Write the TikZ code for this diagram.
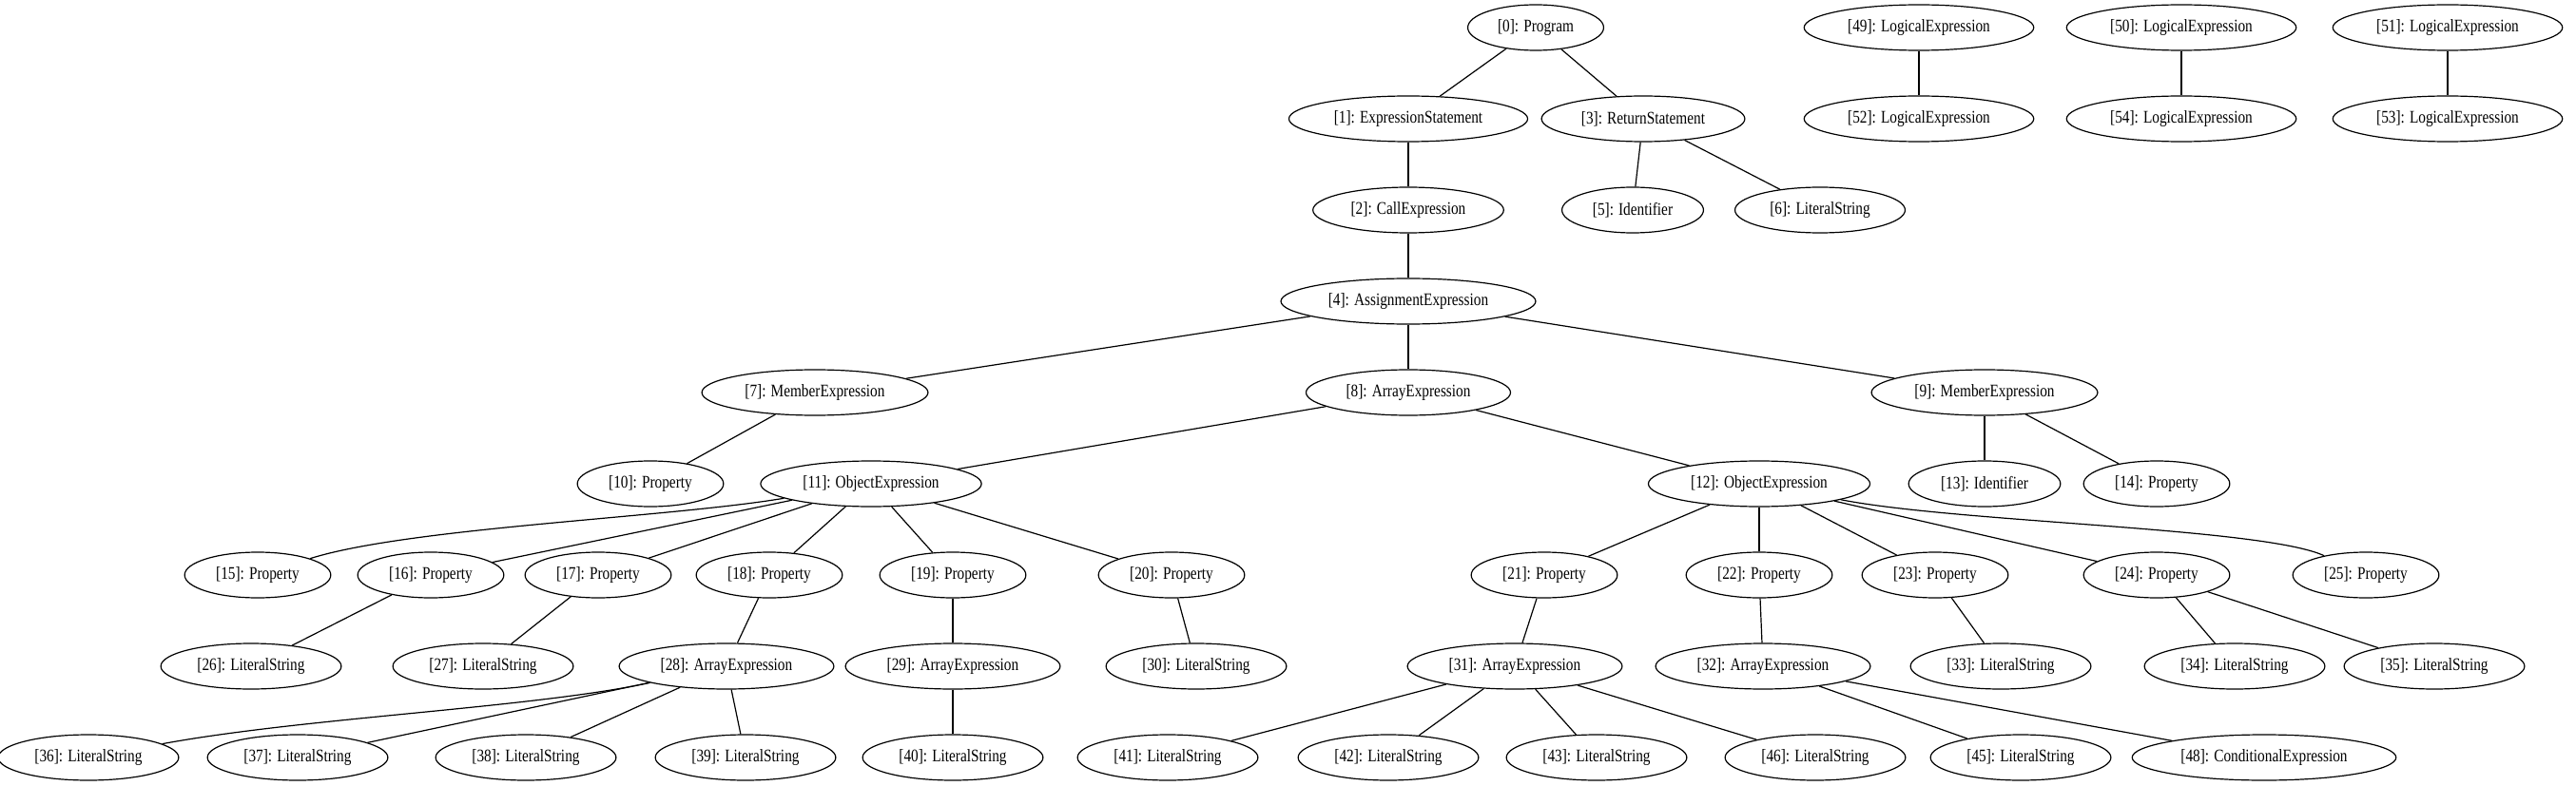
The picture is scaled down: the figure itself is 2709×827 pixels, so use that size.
\documentclass[tikz,border=0pt]{standalone}
\usepackage{fontspec}
\setmainfont{Liberation Serif}[FakeStretch=0.82]
\usetikzlibrary{shapes.geometric}
\begin{document}
\begin{tikzpicture}[x=0.75pt,y=-0.75pt,
  gv/.style={ellipse,draw,line width=0.9pt,font=\fontsize{14}{16}\selectfont,inner xsep=7.92pt,inner ysep=4pt,minimum height=36pt},
  edge/.style={line width=0.9pt}]
\useasboundingbox (0,0) rectangle (2709,827);
% row 0
\node[gv] (n0) at (1615,29) {[0]: Program};
\node[gv] (n49) at (2018,29) {[49]: LogicalExpression};
\node[gv] (n50) at (2294,29) {[50]: LogicalExpression};
\node[gv] (n51) at (2574,29) {[51]: LogicalExpression};
% row 1
\node[gv] (n1) at (1481,125) {[1]: ExpressionStatement};
\node[gv] (n3) at (1728,125) {[3]: ReturnStatement};
\node[gv] (n52) at (2018,125) {[52]: LogicalExpression};
\node[gv] (n54) at (2294,125) {[54]: LogicalExpression};
\node[gv] (n53) at (2574,125) {[53]: LogicalExpression};
% row 2
\node[gv] (n2) at (1481,221) {[2]: CallExpression};
\node[gv] (n5) at (1717,221) {[5]: Identifier};
\node[gv] (n6) at (1914,221) {[6]: LiteralString};
% row 3
\node[gv] (n4) at (1481,317) {[4]: AssignmentExpression};
% row 4
\node[gv] (n7) at (857,413) {[7]: MemberExpression};
\node[gv] (n8) at (1481,413) {[8]: ArrayExpression};
\node[gv] (n9) at (2087,413) {[9]: MemberExpression};
% row 5
\node[gv] (n10) at (684,509) {[10]: Property};
\node[gv] (n11) at (916,509) {[11]: ObjectExpression};
\node[gv] (n12) at (1850,509) {[12]: ObjectExpression};
\node[gv] (n13) at (2087,509) {[13]: Identifier};
\node[gv] (n14) at (2268,509) {[14]: Property};
% row 6
\node[gv] (n15) at (271,605) {[15]: Property};
\node[gv] (n16) at (453,605) {[16]: Property};
\node[gv] (n17) at (629,605) {[17]: Property};
\node[gv] (n18) at (809,605) {[18]: Property};
\node[gv] (n19) at (1002,605) {[19]: Property};
\node[gv] (n20) at (1232,605) {[20]: Property};
\node[gv] (n21) at (1624,605) {[21]: Property};
\node[gv] (n22) at (1850,605) {[22]: Property};
\node[gv] (n23) at (2035,605) {[23]: Property};
\node[gv] (n24) at (2268,605) {[24]: Property};
\node[gv] (n25) at (2488,605) {[25]: Property};
% row 7
\node[gv] (n26) at (264,701) {[26]: LiteralString};
\node[gv] (n27) at (508,701) {[27]: LiteralString};
\node[gv] (n28) at (764,701) {[28]: ArrayExpression};
\node[gv] (n29) at (1002,701) {[29]: ArrayExpression};
\node[gv] (n30) at (1258,701) {[30]: LiteralString};
\node[gv] (n31) at (1593,701) {[31]: ArrayExpression};
\node[gv] (n32) at (1854,701) {[32]: ArrayExpression};
\node[gv] (n33) at (2104,701) {[33]: LiteralString};
\node[gv] (n34) at (2350,701) {[34]: LiteralString};
\node[gv] (n35) at (2560,701) {[35]: LiteralString};
% row 8
\node[gv] (n36) at (93,797) {[36]: LiteralString};
\node[gv] (n37) at (313,797) {[37]: LiteralString};
\node[gv] (n38) at (553,797) {[38]: LiteralString};
\node[gv] (n39) at (784,797) {[39]: LiteralString};
\node[gv] (n40) at (1002,797) {[40]: LiteralString};
\node[gv] (n41) at (1228,797) {[41]: LiteralString};
\node[gv] (n42) at (1460,797) {[42]: LiteralString};
\node[gv] (n43) at (1679,797) {[43]: LiteralString};
\node[gv] (n46) at (1909,797) {[46]: LiteralString};
\node[gv] (n45) at (2125,797) {[45]: LiteralString};
\node[gv] (n48) at (2381,797) {[48]: ConditionalExpression};
% edges
\draw[edge] (n0) -- (n1);
\draw[edge] (n0) -- (n3);
\draw[edge] (n1) -- (n2);
\draw[edge] (n3) -- (n5);
\draw[edge] (n3) -- (n6);
\draw[edge] (n2) -- (n4);
\draw[edge] (n4) -- (n7);
\draw[edge] (n4) -- (n8);
\draw[edge] (n4) -- (n9);
\draw[edge] (n7) -- (n10);
\draw[edge] (n8) -- (n11);
\draw[edge] (n8) -- (n12);
\draw[edge] (n9) -- (n13);
\draw[edge] (n9) -- (n14);
\draw[edge] (n11) .. controls (700,545) and (430,555) .. (n15);
\draw[edge] (n11) -- (n16);
\draw[edge] (n11) -- (n17);
\draw[edge] (n11) -- (n18);
\draw[edge] (n11) -- (n19);
\draw[edge] (n11) -- (n20);
\draw[edge] (n12) -- (n21);
\draw[edge] (n12) -- (n22);
\draw[edge] (n12) -- (n23);
\draw[edge] (n12) -- (n24);
\draw[edge] (n12) .. controls (2060,550) and (2380,555) .. (n25);
\draw[edge] (n16) -- (n26);
\draw[edge] (n17) -- (n27);
\draw[edge] (n18) -- (n28);
\draw[edge] (n19) -- (n29);
\draw[edge] (n20) -- (n30);
\draw[edge] (n21) -- (n31);
\draw[edge] (n22) -- (n32);
\draw[edge] (n23) -- (n33);
\draw[edge] (n24) -- (n34);
\draw[edge] (n24) -- (n35);
\draw[edge] (n28) .. controls (560,745) and (320,755) .. (n36);
\draw[edge] (n28) -- (n37);
\draw[edge] (n28) -- (n38);
\draw[edge] (n28) -- (n39);
\draw[edge] (n29) -- (n40);
\draw[edge] (n31) -- (n41);
\draw[edge] (n31) -- (n42);
\draw[edge] (n31) -- (n43);
\draw[edge] (n31) -- (n46);
\draw[edge] (n32) -- (n45);
\draw[edge] (n32) -- (n48);
\draw[edge] (n49) -- (n52);
\draw[edge] (n50) -- (n54);
\draw[edge] (n51) -- (n53);
\end{tikzpicture}
\end{document}
